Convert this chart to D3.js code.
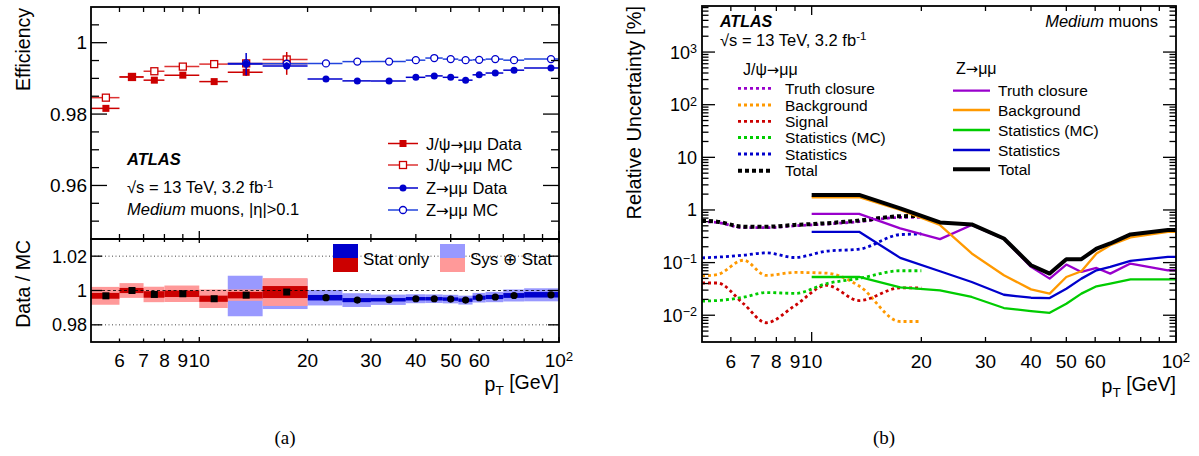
<!DOCTYPE html>
<html><head><meta charset="utf-8">
<script src="https://cdn.jsdelivr.net/npm/d3@7/dist/d3.min.js"></script>
<style>
html,body{margin:0;padding:0;background:#fff;}
svg{display:block;}
text{font-family:"Liberation Sans",Arial,Helvetica,sans-serif;fill:#000;}
</style></head>
<body>
<svg id="chart" width="1199" height="456"></svg>
<script>
// ================= DATA =================
// shared log pT axis
const xTickValues = [6,7,8,9,10,20,30,40,50,60,70,80,90,100];
const xTickLabels = ["6","7","8","9","10","20","30","40","50","60","","","","10^2"];
const xMajorTicks = [10,100];
// panel (a) top: efficiency
const effTickValues = [0.96,0.98,1.00];
const effTickLabels = ["0.96","0.98","1"];
const effMinorTicks = [0.95,0.955,0.965,0.97,0.975,0.985,0.99,0.995,1.005];
// panel (a) bottom: Data/MC
const ratioTickValues = [0.98,1.00,1.02];
const ratioTickLabels = ["0.98","1","1.02"];
// panel (b): relative uncertainty
const uncTickValues = [0.01,0.1,1,10,100,1000];
const uncTickLabels = ["10^\u22122","10^\u22121","1","10","10^2","10^3"];

// J/psi bins (efficiency panel)
const jpsiPt = [5.5,6.5,7.5,9,11,13.5,17.5];
const jpsiLo = [5,6,7,8,10,12,15];
const jpsiHi = [6,7,8,10,12,15,20];
const jpsiEffData = [0.9816,0.9904,0.9895,0.9909,0.9891,0.9917,0.9942];
const jpsiEffDataErr = [0.0003,0.0002,0.0004,0.0003,0.0003,0.0010,0.0032];
const jpsiEffMC = [0.9846,0.9904,0.9920,0.9933,0.9940,0.9942,0.9953];
const jpsiRatio = [0.9969,1.0000,0.9977,0.9981,0.9952,0.9973,0.9991];
const jpsiRatioStat = [0.0017,0.0015,0.0019,0.0019,0.0018,0.0019,0.0035];
const jpsiRatioTot = [0.0052,0.0043,0.0045,0.0048,0.0054,0.0033,0.0081];

// Z bins (efficiency panel)
const zPt = [13.5,17.5,22.5,27.5,33.7,40,45,50,55,60,66.5,75,95];
const zLo = [12,15,20,25,30,37.5,42.5,47.5,52.5,57.5,62.5,70,80];
const zHi = [15,20,25,30,37.5,42.5,47.5,52.5,57.5,62.5,70,80,100];
const zEffData = [0.9940,0.9935,0.9898,0.9893,0.9893,0.9903,0.9907,0.9903,0.9895,0.9910,0.9915,0.9923,0.9929];
const zEffDataErr = [0.0031,0.0010,0.0002,0.0002,0.0002,0.0002,0.0002,0.0002,0.0002,0.0002,0.0002,0.0002,0.0002];
const zEffMC = [0.9942,0.9941,0.9942,0.9947,0.9947,0.9951,0.9957,0.9954,0.9951,0.9952,0.9954,0.9951,0.9954];
const zRatio = [0.9968,0.9980,0.9958,0.9944,0.9946,0.9952,0.9952,0.9950,0.9944,0.9958,0.9962,0.9971,0.9975];
const zRatioShown = [false,false,true,true,true,true,true,true,true,true,true,true,true];
const zRatioStat = [0.0015,0.0020,0.0016,0.0012,0.0010,0.0010,0.0010,0.0010,0.0010,0.0012,0.0012,0.0014,0.0016];
const zRatioTot = [0.0118,0.0088,0.0045,0.0040,0.0030,0.0026,0.0025,0.0025,0.0026,0.0028,0.0030,0.0035,0.0038];

// panel (b): J/psi uncertainties [%]
const jpsiUncPt = [5,5.5,6.5,7.5,9,11,13.5,17.5,20];
const jpsiTruth = [0.60,0.58,0.46,0.46,0.50,0.54,0.60,0.72,0.72];
const jpsiBkg = [0.056,0.059,0.111,0.057,0.065,0.063,0.036,0.0076,0.0076];
const jpsiSig = [0.041,0.041,0.0165,0.0072,0.0153,0.037,0.019,0.033,0.033];
const jpsiStatMC = [0.0186,0.019,0.022,0.027,0.026,0.040,0.050,0.070,0.070];
const jpsiStat = [0.123,0.127,0.138,0.153,0.125,0.165,0.18,0.34,0.35];
const jpsiTotal = [0.62,0.60,0.48,0.48,0.52,0.56,0.63,0.76,0.77];
// panel (b): Z uncertainties [%]
const zUncPt = [10,13.5,17.5,22.5,27.5,33.7,40,45,50,55,60.5,66,75,95,100];
const zTruth = [0.84,0.84,0.446,0.279,0.517,0.28,0.083,0.0496,0.0917,0.0665,0.079,0.0618,0.0959,0.0715,0.0715];
const zBkg = [1.74,1.76,1.0,0.517,0.149,0.0574,0.031,0.0257,0.0533,0.0685,0.149,0.214,0.30,0.385,0.385];
const zStatMC = [0.0533,0.0533,0.0339,0.0297,0.0222,0.0137,0.012,0.0111,0.0165,0.0257,0.0354,0.0398,0.0482,0.0482,0.0482];
const zStat = [0.385,0.385,0.123,0.0685,0.0428,0.0245,0.0215,0.0212,0.0319,0.0496,0.0715,0.0828,0.1077,0.1285,0.1285];
const zTotal = [1.93,1.93,1.075,0.58,0.532,0.287,0.089,0.0618,0.116,0.116,0.185,0.231,0.343,0.415,0.415];

const jpsiLegend = ["Truth closure","Background","Signal","Statistics (MC)","Statistics","Total"];
const zLegend = ["Truth closure","Background","Statistics (MC)","Statistics","Total"];
const effLegend = ["J/\u03c8\u2192\u03bc\u03bc Data","J/\u03c8\u2192\u03bc\u03bc MC","Z\u2192\u03bc\u03bc Data","Z\u2192\u03bc\u03bc MC"];

// ================= STYLE =================
const RED="#cc0000", BLUE="#0000cc", LRED="#ff9999", LBLUE="#9999ff";
const PURPLE="#9900cc", ORANGE="#ff9900", GREEN="#00cc00";

const svg = d3.select("#chart");

function appendRich(t, s) {
  const segs = s.split("\u2192");
  segs.forEach((seg,i)=>{
    if (i>0) t.append("tspan").style("font-family",'"DejaVu Sans",sans-serif').attr("font-size","92%").text("\u2192");
    if (seg) t.append("tspan").text(seg);
  });
}
function addText(g, x, y, str, opts={}) {
  const t = g.append("text").attr("x",x).attr("y",y)
    .attr("font-size", opts.size||16).attr("text-anchor", opts.anchor||"start");
  if (opts.weight) t.attr("font-weight",opts.weight);
  if (opts.style) t.attr("font-style",opts.style);
  if (opts.family) t.style("font-family",opts.family);
  if (opts.transform) t.attr("transform",opts.transform);
  const parts = str.split("^");
  appendRich(t, parts[0]);
  if (parts.length>1) t.append("tspan").attr("dy","-0.45em").attr("font-size","70%").text(parts[1]);
  return t;
}
function xTicks(g, sc, vals, y0, dir, len) {
  g.append("g").selectAll("line").data(vals).join("line")
    .attr("x1",d=>sc(d)).attr("x2",d=>sc(d)).attr("y1",y0).attr("y2",y0+dir*len)
    .attr("stroke","#000").attr("stroke-width",1.3);
}
function yTicks(g, sc, vals, x0, dir, len) {
  g.append("g").selectAll("line").data(vals).join("line")
    .attr("y1",d=>sc(d)).attr("y2",d=>sc(d)).attr("x1",x0).attr("x2",x0+dir*len)
    .attr("stroke","#000").attr("stroke-width",1.3);
}
const xMinor = xTickValues.filter(v=>!xMajorTicks.includes(v));

// ================= PANEL (a) =================
const A = {l:91, r:559, t:7, m:239, b:342};
const xA = d3.scaleLog().domain([5,100]).range([A.l,A.r]);
const yEff = d3.scaleLinear().domain([0.945,1.010]).range([A.m,A.t]);
const yRat = d3.scaleLinear().domain([0.97,1.03]).range([A.b,A.m]);
const gA = svg.append("g");

// ratio pad reference lines
gA.selectAll(null).data([0.98,1.02]).join("line")
  .attr("x1",A.l).attr("x2",A.r).attr("y1",d=>yRat(d)).attr("y2",d=>yRat(d))
  .attr("stroke","#444").attr("stroke-width",1).attr("stroke-dasharray","1,2.5");

function bands(lo,hi,val,err,color){
  gA.append("g").selectAll("rect").data(val).join("rect")
    .attr("x",(d,i)=>xA(lo[i])).attr("width",(d,i)=>xA(hi[i])-xA(lo[i]))
    .attr("y",(d,i)=>yRat(d+err[i])).attr("height",(d,i)=>yRat(d-err[i])-yRat(d+err[i]))
    .attr("fill",color);
}
bands(zLo,zHi,zRatio,zRatioTot,LBLUE);
bands(zLo,zHi,zRatio,zRatioStat,BLUE);
bands(jpsiLo,jpsiHi,jpsiRatio,jpsiRatioTot,LRED);
bands(jpsiLo,jpsiHi,jpsiRatio,jpsiRatioStat,RED);

gA.append("line").attr("x1",A.l).attr("x2",A.r).attr("y1",yRat(1)).attr("y2",yRat(1))
  .attr("stroke","#000").attr("stroke-width",1).attr("stroke-dasharray","3,2.5").attr("opacity",0.8);

// ratio markers
gA.append("g").selectAll("rect").data(jpsiRatio).join("rect")
  .attr("x",(d,i)=>xA(jpsiPt[i])-3.5).attr("y",d=>yRat(d)-3.5).attr("width",7).attr("height",7).attr("fill","#000");
gA.append("g").selectAll("circle").data(zRatio.map((d,i)=>({d,i})).filter(o=>zRatioShown[o.i])).join("circle")
  .attr("cx",o=>xA(zPt[o.i])).attr("cy",o=>yRat(o.d)).attr("r",3.6).attr("fill","#000");

// efficiency error bars & markers
function effSeries(pt,lo,hi,val,err,lineColor,markColor,shape,filled){
  const g = gA.append("g");
  g.selectAll(".h").data(val).join("line")
    .attr("x1",(d,i)=>xA(lo[i])).attr("x2",(d,i)=>xA(hi[i])).attr("y1",d=>yEff(d)).attr("y2",d=>yEff(d))
    .attr("stroke",lineColor).attr("stroke-width",1.5);
  if (err) g.selectAll(".v").data(val).join("line")
    .attr("x1",(d,i)=>xA(pt[i])).attr("x2",(d,i)=>xA(pt[i]))
    .attr("y1",(d,i)=>yEff(d-err[i])).attr("y2",(d,i)=>yEff(d+err[i]))
    .attr("stroke",lineColor).attr("stroke-width",1.5);
  if (shape==="square") g.selectAll("rect").data(val).join("rect")
    .attr("x",(d,i)=>xA(pt[i])-3.5).attr("y",d=>yEff(d)-3.5).attr("width",7).attr("height",7)
    .attr("fill",filled?markColor:"#fff").attr("stroke",markColor).attr("stroke-width",filled?0:1.3);
  else g.selectAll("circle").data(val).join("circle")
    .attr("cx",(d,i)=>xA(pt[i])).attr("cy",d=>yEff(d)).attr("r",3.5)
    .attr("fill",filled?markColor:"#fff").attr("stroke",markColor).attr("stroke-width",filled?0:1.3);
}
effSeries(jpsiPt,jpsiLo,jpsiHi,jpsiEffMC,null,"#dd3333",RED,"square",false);
effSeries(jpsiPt,jpsiLo,jpsiHi,jpsiEffData,jpsiEffDataErr,RED,RED,"square",true);
effSeries(zPt,zLo,zHi,zEffMC,null,"#2244dd",BLUE,"circle",false);
effSeries(zPt,zLo,zHi,zEffData,zEffDataErr,BLUE,BLUE,"circle",true);

// frames
gA.append("rect").attr("x",A.l).attr("y",A.t).attr("width",A.r-A.l).attr("height",A.m-A.t)
  .attr("fill","none").attr("stroke","#000").attr("stroke-width",1.8);
gA.append("rect").attr("x",A.l).attr("y",A.m).attr("width",A.r-A.l).attr("height",A.b-A.m)
  .attr("fill","none").attr("stroke","#000").attr("stroke-width",1.8);

// ticks (a)
yTicks(gA,yEff,effTickValues,A.l,1,16); yTicks(gA,yEff,effMinorTicks,A.l,1,8);
yTicks(gA,yEff,effTickValues,A.r,-1,16); yTicks(gA,yEff,effMinorTicks,A.r,-1,8);
xTicks(gA,xA,xMinor,A.t,1,5); xTicks(gA,xA,xMajorTicks,A.t,1,7);
xTicks(gA,xA,xMinor,A.m,-1,5); xTicks(gA,xA,xMajorTicks,A.m,-1,8);
xTicks(gA,xA,xMinor,A.m,1,3); xTicks(gA,xA,xMajorTicks,A.m,1,4);
xTicks(gA,xA,xMinor,A.b,-1,3.5); xTicks(gA,xA,xMajorTicks,A.b,-1,5);
yTicks(gA,yRat,ratioTickValues,A.l,1,11); yTicks(gA,yRat,ratioTickValues,A.r,-1,11);

// labels (a)
effTickValues.forEach((v,i)=>addText(gA,A.l-4,yEff(v)+6.8,effTickLabels[i],{size:19,anchor:"end"}));
ratioTickValues.forEach((v,i)=>addText(gA,A.l-4,yRat(v)+6.4,ratioTickLabels[i],{size:18,anchor:"end"}));
xTickValues.forEach((v,i)=>{ if(xTickLabels[i]) addText(gA,xA(v),366.5,xTickLabels[i],{size:19,anchor:"middle"}); });
addText(gA,0,0,"Efficiency",{size:19.5,anchor:"end",transform:"translate(29.5,8) rotate(-90)"});
addText(gA,0,0,"Data / MC",{size:19.5,anchor:"end",transform:"translate(29.5,240) rotate(-90)"});
function ptTitle(g,xr,y){
  const t=g.append("text").attr("x",xr).attr("y",y).attr("text-anchor","end").attr("font-size",19.5);
  t.append("tspan").text("p");
  t.append("tspan").attr("dy","0.3em").attr("font-size","70%").text("T");
  t.append("tspan").attr("dy","-0.3em").text(" [GeV]");
}
ptTitle(gA,A.r,391);

addText(gA,127,165,"ATLAS",{size:16.5,weight:"bold",style:"italic"});
{
  const t=gA.append("text").attr("x",127).attr("y",193).attr("font-size",16.5);
  t.append("tspan").text("\u221as = 13 TeV, 3.2 fb");
  t.append("tspan").attr("dy","-0.45em").attr("font-size","70%").text("-1");
  const t2=gA.append("text").attr("x",127).attr("y",215).attr("font-size",16.5);
  t2.append("tspan").attr("font-style","italic").text("Medium");
  t2.append("tspan").text(" muons, |\u03b7|>0.1");
}
// legend (a)
const effLegY=[143.5,165,188,210];
const effLegStyle=[
  {line:RED,mark:RED,shape:"square",filled:true},
  {line:"#dd3333",mark:RED,shape:"square",filled:false},
  {line:BLUE,mark:BLUE,shape:"circle",filled:true},
  {line:"#2244dd",mark:BLUE,shape:"circle",filled:false}];
effLegend.forEach((lab,i)=>{
  const y=effLegY[i], s=effLegStyle[i];
  gA.append("line").attr("x1",388).attr("x2",418).attr("y1",y).attr("y2",y).attr("stroke",s.line).attr("stroke-width",1.5);
  if(s.shape==="square") gA.append("rect").attr("x",403-3.5).attr("y",y-3.5).attr("width",7).attr("height",7)
    .attr("fill",s.filled?s.mark:"#fff").attr("stroke",s.mark).attr("stroke-width",s.filled?0:1.3);
  else gA.append("circle").attr("cx",403).attr("cy",y).attr("r",3.5)
    .attr("fill",s.filled?s.mark:"#fff").attr("stroke",s.mark).attr("stroke-width",s.filled?0:1.3);
  addText(gA,426,y+6,lab,{size:16.5});
});
// ratio legend
gA.append("rect").attr("x",333).attr("y",244).attr("width",25).attr("height",14).attr("fill",BLUE);
gA.append("rect").attr("x",333).attr("y",258).attr("width",25).attr("height",14).attr("fill",RED);
gA.append("rect").attr("x",440).attr("y",244).attr("width",25).attr("height",14).attr("fill",LBLUE);
gA.append("rect").attr("x",440).attr("y",258).attr("width",25).attr("height",14).attr("fill",LRED);
addText(gA,363,265,"Stat only",{size:17});
addText(gA,470,265,"Sys \u2295 Stat",{size:17});

// ================= PANEL (b) =================
const B = {l:702, r:1176, t:6, b:342};
const xB = d3.scaleLog().domain([5,100]).range([B.l,B.r]);
const yB = d3.scaleLog().domain([0.0031,7500]).range([B.b,B.t]);
const gB = svg.append("g");

function curve(pt,vals,color,width,dash,smooth){
  const idx=d3.range(vals.length);
  const ln=d3.line().x(i=>xB(pt[i])).y(i=>yB(vals[i])).curve(smooth?d3.curveMonotoneX:d3.curveLinear);
  const p=gB.append("path").attr("d",ln(idx)).attr("fill","none").attr("stroke",color)
    .attr("stroke-width",width).attr("stroke-linejoin","round");
  if(dash) p.attr("stroke-dasharray",dash);
}
const jpsiSeries=[[jpsiTruth,PURPLE],[jpsiBkg,ORANGE],[jpsiSig,RED],[jpsiStatMC,GREEN],[jpsiStat,BLUE],[jpsiTotal,"#000"]];
jpsiSeries.forEach(([v,c])=>curve(jpsiUncPt,v,c,c==="#000"?4:2.8,c==="#000"?"4,3":"3,3",true));
const zSeries=[[zTruth,PURPLE],[zBkg,ORANGE],[zStatMC,GREEN],[zStat,BLUE],[zTotal,"#000"]];
zSeries.forEach(([v,c])=>curve(zUncPt,v,c,c==="#000"?4:2.3,null,false));

gB.append("rect").attr("x",B.l).attr("y",B.t).attr("width",B.r-B.l).attr("height",B.b-B.t)
  .attr("fill","none").attr("stroke","#000").attr("stroke-width",1.8);

// ticks (b)
const logMinor=[];
for(let e=-3;e<=3;e++) for(let k=2;k<=9;k++){const v=k*Math.pow(10,e); if(v>=0.0031&&v<=7500) logMinor.push(v);}
yTicks(gB,yB,uncTickValues,B.l,1,13); yTicks(gB,yB,logMinor,B.l,1,6.5);
yTicks(gB,yB,uncTickValues,B.r,-1,13); yTicks(gB,yB,logMinor,B.r,-1,6.5);
xTicks(gB,xB,xMinor,B.b,-1,5); xTicks(gB,xB,xMajorTicks,B.b,-1,10);
xTicks(gB,xB,xMinor,B.t,1,5); xTicks(gB,xB,xMajorTicks,B.t,1,9);

uncTickValues.forEach((v,i)=>addText(gB,697,yB(v)+6.5,uncTickLabels[i],{size:18,anchor:"end"}));
xTickValues.forEach((v,i)=>{ if(xTickLabels[i]) addText(gB,xB(v),368,xTickLabels[i],{size:19,anchor:"middle"}); });
addText(gB,0,0,"Relative Uncertainty [%]",{size:20,anchor:"end",transform:"translate(641,6) rotate(-90)"});
ptTitle(gB,B.r,393);

addText(gB,720,26.7,"ATLAS",{size:16,weight:"bold",style:"italic"});
{
  const t=gB.append("text").attr("x",720).attr("y",45.5).attr("font-size",16.5);
  t.append("tspan").text("\u221as = 13 TeV, 3.2 fb");
  t.append("tspan").attr("dy","-0.45em").attr("font-size","70%").text("-1");
  const t2=gB.append("text").attr("x",1158).attr("y",26.7).attr("font-size",16.5).attr("text-anchor","end");
  t2.append("tspan").attr("font-style","italic").text("Medium");
  t2.append("tspan").text(" muons");
}
// legends (b)
addText(gB,743,75,"J/\u03c8\u2192\u03bc\u03bc",{size:16});
const jLegY=[88.3,105,121.3,137.5,154,170.7];
jpsiSeries.forEach(([v,c],i)=>{
  const y=jLegY[i];
  gB.append("line").attr("x1",738).attr("x2",773).attr("y1",y).attr("y2",y).attr("stroke",c)
    .attr("stroke-width",c==="#000"?4:2.8).attr("stroke-dasharray",c==="#000"?"4,3":"3,3");
  addText(gB,785,y+5.5,jpsiLegend[i],{size:15.5});
});
addText(gB,956,74,"Z\u2192\u03bc\u03bc",{size:16});
const zLegY=[90.7,110,130,150,169.3];
zSeries.forEach(([v,c],i)=>{
  const y=zLegY[i];
  gB.append("line").attr("x1",953).attr("x2",990).attr("y1",y).attr("y2",y).attr("stroke",c)
    .attr("stroke-width",c==="#000"?4:2.3);
  addText(gB,998,y+5.5,zLegend[i],{size:15.5});
});

// captions
addText(svg,285,444,"(a)",{size:19,anchor:"middle",family:'"Liberation Serif","DejaVu Serif",serif'});
addText(svg,884,444,"(b)",{size:19,anchor:"middle",family:'"Liberation Serif","DejaVu Serif",serif'});
</script>
</body></html>
